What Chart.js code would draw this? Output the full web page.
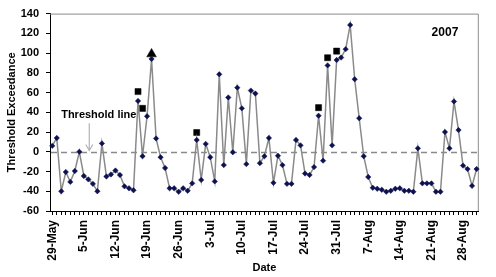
<!DOCTYPE html>
<html>
<head>
<meta charset="utf-8">
<script src="https://cdn.jsdelivr.net/npm/chart.js@4/dist/chart.umd.min.js"></script>
<style>
  html, body { margin: 0; padding: 0; background: #fff; }
  #c { display: block; }
</style>
</head>
<body>
<canvas id="c" width="496" height="277"></canvas>
<script>
/* ─── data ──────────────────────────────────────────────────── */
const startDay = new Date(2007, 4, 29);   // 29-May
const dayCount = 95;
const months = ['Jan','Feb','Mar','Apr','May','Jun','Jul','Aug','Sep','Oct','Nov','Dec'];
const dates = [];
for (let i = 0; i < dayCount; i++) {
  const d = new Date(startDay.getTime() + i * 864e5);
  dates.push(d.getDate() + '-' + months[d.getMonth()]);
}

const exceedance = [
  6, 14, -40, -20.5, -30.5, -19.5, 0, -24.5, -28, -32.5,
  -40, 8.5, -25, -23, -19, -23.5, -35, -37, -39, 51.5,
  -4.5, 36, 94, 13.5, -5.5, -16.5, -37, -37, -40.5, -37,
  -39.5, -32, 12, -28.5, 8, -5.5, -30, 78.5, -13.5, 55,
  -0.5, 65, 44, -12.5, 62, 59, -11.5, -4.5, 14, -31.5,
  -4, -13.5, -32.5, -32.5, 12, 6.5, -22, -23.5, -15.5, 36.5,
  -9, 87.5, 6.5, 93, 95.5, 104, 128.5, 73.5, 34, -4.5,
  -25.5, -36.5, -37.5, -38.5, -40.5, -39.5, -37.5, -37, -39.5, -39.5,
  -40.5, 3.5, -32, -32, -32, -40.5, -40.5, 20, 3.5, 51,
  22, -14, -17.5, -34.5, -17.5
];

const squareDates  = ['17-Jun', '18-Jun', '30-Jun', '27-Jul', '29-Jul', '31-Jul'];
const squareValues = [61, 44, 19.5, 44.7, 95.3, 102];
const triangleDates  = ['20-Jun'];
const triangleValues = [99];

const thresholdValue = 0;
const yMin = -60, yMax = 140, yStep = 20;
const yearLabel = '2007';

/* annotation anchors, in data units */
const noteText = 'Threshold line';
const noteAt   = { x: 10.3, y: 37.5 };
const arrowX   = 8.2, arrowFrom = 29;

const FONT = '"Liberation Sans", Arial, sans-serif';

/* ─── frame, threshold line, notes ──────────────────────────── */
const extras = {
  id: 'extras',
  beforeDatasetsDraw(chart) {
    const { ctx, chartArea: a, scales: { x, y } } = chart;
    ctx.save();
    // top + right frame
    ctx.strokeStyle = '#8c8c8c';
    ctx.lineWidth = 1;
    ctx.beginPath();
    ctx.moveTo(a.left, a.top + 0.5);
    ctx.lineTo(a.right - 0.5, a.top + 0.5);
    ctx.lineTo(a.right - 0.5, a.bottom);
    ctx.stroke();
    // dashed threshold
    const ty = Math.round(y.getPixelForValue(thresholdValue)) + 0.5;
    ctx.strokeStyle = '#8a8a8a';
    ctx.lineWidth = 1.5;
    ctx.setLineDash([6, 4]);
    ctx.beginPath();
    ctx.moveTo(a.left + 1, ty);
    ctx.lineTo(a.right - 1, ty);
    ctx.stroke();
    ctx.setLineDash([]);
    // arrow
    const ax = x.getPixelForValue(arrowX);
    const ay0 = y.getPixelForValue(arrowFrom);
    ctx.strokeStyle = '#b4b4b4';
    ctx.lineWidth = 1.2;
    ctx.beginPath();
    ctx.moveTo(ax, ay0);
    ctx.lineTo(ax, ty - 2);
    ctx.moveTo(ax - 3.5, ty - 8);
    ctx.lineTo(ax, ty - 2);
    ctx.lineTo(ax + 3.5, ty - 8);
    ctx.stroke();
    // texts
    ctx.fillStyle = '#000';
    ctx.font = 'bold 11px ' + FONT;
    ctx.textAlign = 'center';
    ctx.textBaseline = 'middle';
    ctx.fillText(noteText, x.getPixelForValue(noteAt.x), y.getPixelForValue(noteAt.y));
    ctx.font = 'bold 12px ' + FONT;
    ctx.fillText(yearLabel, x.getPixelForValue(87), y.getPixelForValue(120.5));
    ctx.restore();
  }
};

new Chart(document.getElementById('c'), {
  type: 'line',
  data: {
    labels: dates,
    datasets: [
      {
        data: exceedance,
        borderColor: '#8a8a8a',
        borderWidth: 1.5,
        pointStyle: 'rectRot',
        pointRadius: 2.7,
        pointBackgroundColor: '#0d1150',
        pointBorderColor: '#0d1150',
        pointBorderWidth: 0.5,
        tension: 0
      },
      {
        data: squareDates.map((d, i) => ({ x: d, y: squareValues[i] })),
        showLine: false,
        pointStyle: 'rect',
        pointRadius: 4.3,
        pointBackgroundColor: '#000',
        pointBorderColor: '#000',
        pointBorderWidth: 0.5
      },
      {
        data: triangleDates.map((d, i) => ({ x: d, y: triangleValues[i] })),
        showLine: false,
        pointStyle: 'triangle',
        pointRadius: 5.6,
        pointBackgroundColor: '#000',
        pointBorderColor: '#000',
        pointBorderWidth: 0.5
      }
    ]
  },
  options: {
    responsive: false,
    animation: false,
    devicePixelRatio: 1,
    layout: { padding: { top: 9, right: 7, left: 0, bottom: 0 } },
    plugins: { legend: { display: false }, tooltip: { enabled: false } },
    scales: {
      x: {
        type: 'category',
        offset: true,
        afterFit: s => { s.height = 66; },
        grid: { drawOnChartArea: false, drawTicks: true, tickLength: 4, color: '#000', lineWidth: 1 },
        border: { color: '#000', width: 1 },
        ticks: {
          autoSkip: false,
          minRotation: 90,
          maxRotation: 90,
          padding: 5,
          color: '#000',
          font: { family: FONT, size: 12, weight: 'bold' },
          callback: (v, i) => (i % 7 === 0 ? dates[i] : '')
        },
        title: {
          display: true,
          text: 'Date',
          color: '#000',
          font: { family: FONT, size: 11, weight: 'bold' },
          padding: { top: 0, bottom: 2 }
        }
      },
      y: {
        min: yMin,
        max: yMax,
        afterFit: s => { s.width = 50; },
        grid: { drawOnChartArea: false, drawTicks: true, tickLength: 4, color: '#000' },
        border: { color: '#000', width: 1 },
        ticks: {
          stepSize: yStep,
          padding: 7,
          color: '#000',
          font: { family: FONT, size: 11, weight: 'bold' }
        },
        title: {
          display: true,
          text: 'Threshold Exceedance',
          color: '#000',
          font: { family: FONT, size: 11, weight: 'bold' },
          padding: { top: 5, bottom: 0 }
        }
      }
    }
  },
  plugins: [extras]
});
</script>
</body>
</html>
